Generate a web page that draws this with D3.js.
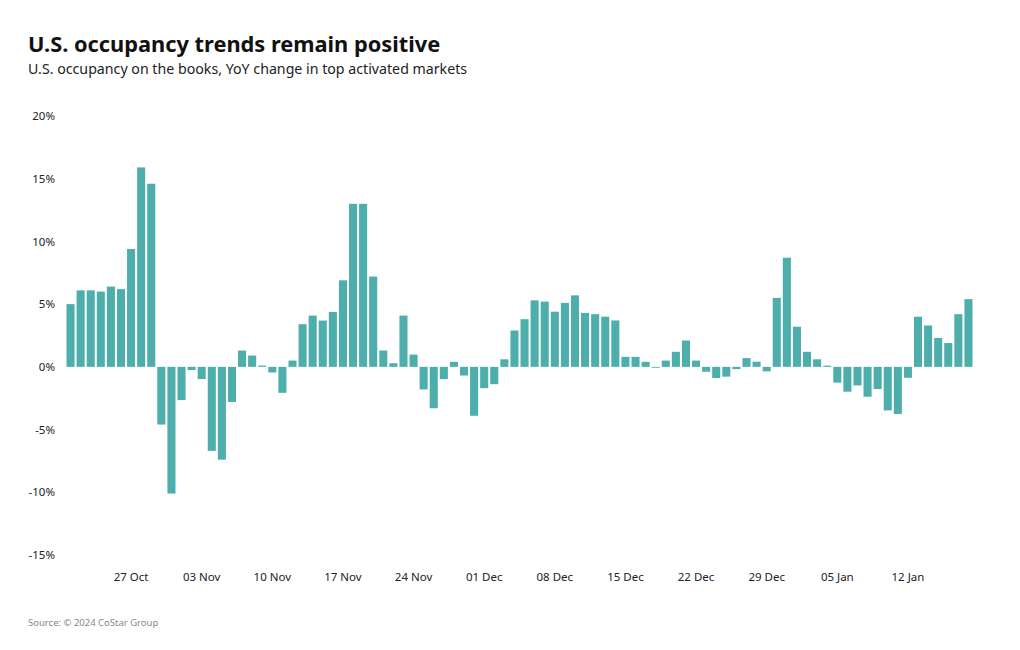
<!DOCTYPE html>
<html><head><meta charset="utf-8">
<script src="https://cdn.jsdelivr.net/npm/d3@7"></script>
<style>
body{margin:0;background:#fff;}
svg{display:block;font-family:"Noto Sans",sans-serif;}
</style></head>
<body><svg id="c" width="1020" height="650"></svg>
<script>
const startDate = "2024-10-21";
const values = [5.0,6.1,6.1,6.0,6.4,6.2,9.4,15.9,14.6,
-4.6,-10.1,-2.65,-0.25,-0.97,-6.7,-7.4,-2.8,1.3,0.9,0.1,
-0.45,-2.07,0.5,3.4,4.09,3.69,4.38,6.9,13.0,13.0,7.2,1.3,0.29,4.09,0.98,
-1.8,-3.3,-0.98,0.4,-0.69,-3.9,-1.7,-1.38,0.6,2.9,3.8,5.3,5.2,4.4,5.1,5.7,4.3,4.2,4.0,3.7,
0.8,0.8,0.4,-0.07,0.5,1.2,2.1,0.5,-0.39,-0.89,-0.78,-0.18,0.7,0.41,-0.36,5.5,8.7,3.2,1.2,0.6,0.1,
-1.26,-1.98,-1.48,-2.38,-1.77,-3.47,-3.76,-0.87,4.0,3.3,2.3,1.9,4.2,5.4];
const yTicks = [-15,-10,-5,0,5,10,15,20];
const xTickLabels = ["27 Oct","03 Nov","10 Nov","17 Nov","24 Nov","01 Dec","08 Dec","15 Dec","22 Dec","29 Dec","05 Jan","12 Jan"];
const title = "U.S. occupancy trends remain positive";
const subtitle = "U.S. occupancy on the books, YoY change in top activated markets";
const source = "Source: © 2024 CoStar Group";

const parse = d3.utcParse("%Y-%m-%d");
const fmt = d3.utcFormat("%d %b");
const d0 = parse(startDate);
const data = values.map((v,i)=>({date:d3.utcDay.offset(d0,i),v}));

const svg = d3.select("#c");
const x = d3.scaleBand().domain(data.map(d=>+d.date)).range([65.5,973.5]).paddingInner(0.2).paddingOuter(0.1);
const y = d3.scaleLinear().domain([-15,20]).range([555,116]);

svg.append("text").attr("x",28).attr("y",52).attr("font-size",21.8).attr("font-weight",700).attr("fill","#111").text(title);
svg.append("text").attr("x",28).attr("y",74).attr("font-size",14.2).attr("fill","#222").text(subtitle);

svg.append("g").selectAll("rect").data(data).join("rect")
 .attr("x",d=>x(+d.date)).attr("width",x.bandwidth())
 .attr("y",d=>y(Math.max(0,d.v))).attr("height",d=>Math.abs(y(d.v)-y(0)))
 .attr("fill","#4eaeac");

const yAxis = d3.axisLeft(y).tickValues(yTicks).tickFormat(d=>d+"%").tickSize(0).tickPadding(0);
const gy = svg.append("g").attr("transform","translate(55,0)").call(yAxis);
gy.select(".domain").remove();
gy.selectAll("text").attr("font-size",11.5).attr("fill","#222").attr("font-family","'Noto Sans',sans-serif");

const tickDates = data.filter(d=>xTickLabels.includes(fmt(d.date))).map(d=>+d.date);
const xAxis = d3.axisBottom(x).tickValues(tickDates).tickFormat(d=>fmt(new Date(d))).tickSize(0).tickPadding(0);
const gx = svg.append("g").attr("transform","translate(0,573)").call(xAxis);
gx.select(".domain").remove();
gx.selectAll("text").attr("font-size",11.5).attr("fill","#222").attr("font-family","'Noto Sans',sans-serif");

svg.append("text").attr("x",28).attr("y",626).attr("font-size",9.5).attr("fill","#888").text(source);
</script></body></html>
